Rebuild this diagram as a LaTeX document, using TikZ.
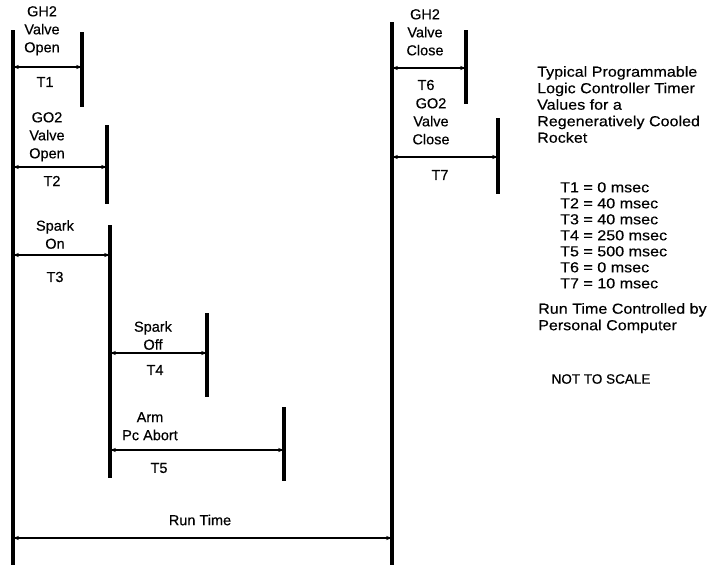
\documentclass[tikz,border=0pt]{standalone}
\usepackage{fontspec}
\setmainfont[FakeBold=0.4]{Liberation Sans}
\newfontfamily\widefont[FakeStretch=1.11,FakeBold=0.4]{Liberation Sans}
\usetikzlibrary{arrows.meta}
\begin{document}
\begin{tikzpicture}[x=1pt,y=-1pt,
  bar/.style={line width=3.2pt},
  span/.style={line width=1.3pt,{Stealth[length=6pt,width=4.2pt]}-{Stealth[length=6pt,width=4.2pt]}},
  lbl/.style={font=\fontsize{14.5}{18}\selectfont, align=center, inner sep=0pt, anchor=north},
  tlbl/.style={font=\fontsize{14.5}{18}\selectfont, inner sep=0pt, anchor=center},
  side/.style={font=\widefont\fontsize{14.5}{16.5}\selectfont, align=left, inner sep=0pt, anchor=north west}]
\useasboundingbox (0,0) rectangle (711,565);
% main bars
\coordinate (L0) at (13,30);   \coordinate (L1) at (13,565);
\coordinate (R0) at (392,22);  \coordinate (R1) at (392,565);
\draw[bar] (L0) -- (L1);
\draw[bar] (R0) -- (R1);
% T1
\coordinate (b1t) at (82,32); \coordinate (b1b) at (82,107);
\draw[bar] (b1t) -- (b1b);
\coordinate (a1l) at (13,67); \coordinate (a1r) at (82,67);
\draw[span] (a1l) -- (a1r);
\node[lbl] (gh2o) at (42,6) {GH2\\Valve\\Open};
\node[tlbl] (t1) at (45,82) {T1};
% T2
\coordinate (b2t) at (107,125); \coordinate (b2b) at (107,204);
\draw[bar] (b2t) -- (b2b);
\coordinate (a2l) at (13,167); \coordinate (a2r) at (107,167);
\draw[span] (a2l) -- (a2r);
\node[lbl] (go2o) at (47,112) {GO2\\Valve\\Open};
\node[tlbl] (t2) at (52,181) {T2};
% T3
\coordinate (b3t) at (110,225); \coordinate (b3b) at (110,478);
\draw[bar] (b3t) -- (b3b);
\coordinate (a3l) at (13,255); \coordinate (a3r) at (110,255);
\draw[span] (a3l) -- (a3r);
\node[lbl] (spon) at (55,220) {Spark\\On};
\node[tlbl] (t3) at (55,277) {T3};
% T4
\coordinate (b4t) at (207,313); \coordinate (b4b) at (207,397);
\draw[bar] (b4t) -- (b4b);
\coordinate (a4l) at (110,353); \coordinate (a4r) at (207,353);
\draw[span] (a4l) -- (a4r);
\node[lbl] (spoff) at (153,321) {Spark\\Off};
\node[tlbl] (t4) at (155,370) {T4};
% T5
\coordinate (b5t) at (284,407); \coordinate (b5b) at (284,481);
\draw[bar] (b5t) -- (b5b);
\coordinate (a5l) at (110,450); \coordinate (a5r) at (284,450);
\draw[span] (a5l) -- (a5r);
\node[lbl] (arm) at (150,412) {Arm\\Pc Abort};
\node[tlbl] (t5) at (159,468) {T5};
% Run time
\coordinate (arl) at (13,538); \coordinate (arr) at (392,538);
\draw[span] (arl) -- (arr);
\node[tlbl] (rt) at (200,520) {Run Time};
% T6
\coordinate (b6t) at (466,30); \coordinate (b6b) at (466,104);
\draw[bar] (b6t) -- (b6b);
\coordinate (a6l) at (392,68); \coordinate (a6r) at (466,68);
\draw[span] (a6l) -- (a6r);
\node[lbl] (gh2c) at (425,9) {GH2\\Valve\\Close};
\node[tlbl] (t6) at (426,85) {T6};
% T7
\coordinate (b7t) at (498,118); \coordinate (b7b) at (498,194);
\draw[bar] (b7t) -- (b7b);
\coordinate (a7l) at (392,157); \coordinate (a7r) at (498,157);
\draw[span] (a7l) -- (a7r);
\node[lbl] (go2c) at (431,98) {GO2\\Valve\\Close};
\node[tlbl] (t7) at (440,175) {T7};
% side text
\node[side] (title) at (537,66) {Typical Programmable\\Logic Controller Timer\\Values for a\\Regeneratively Cooled\\Rocket};
\node[side, font=\widefont\fontsize{14.5}{16}\selectfont] (tlist) at (560,182) {T1 = 0 msec\\T2 = 40 msec\\T3 = 40 msec\\T4 = 250 msec\\T5 = 500 msec\\T6 = 0 msec\\T7 = 10 msec};
\node[side] (rtc) at (538,303) {Run Time Controlled by\\Personal Computer};
\node[tlbl, font=\fontsize{13.5}{16}\selectfont] (nts) at (601,379) {NOT TO SCALE};
\end{tikzpicture}
\end{document}
